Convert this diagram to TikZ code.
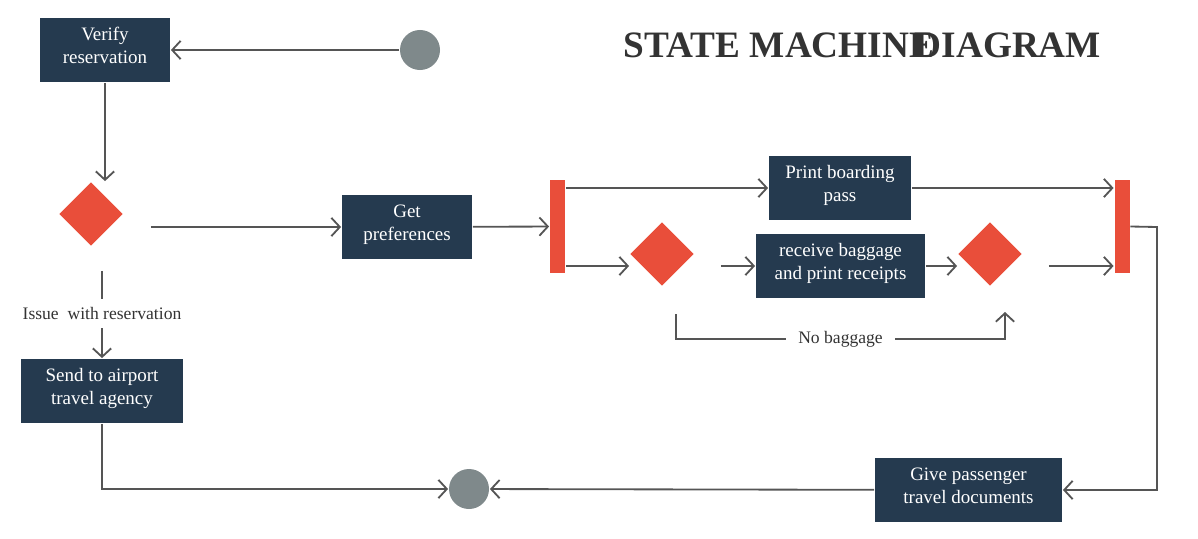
\documentclass[tikz,border=0pt]{standalone}
\usepackage{fontspec}
\setmainfont{Liberation Serif}
\usetikzlibrary{arrows.meta,shapes.geometric}
\definecolor{navy}{HTML}{253A4F}
\definecolor{tomato}{HTML}{E94E3A}
\definecolor{slate}{HTML}{7F898B}
\definecolor{wire}{HTML}{555555}
\definecolor{ink}{HTML}{333333}
\tikzstyle{act} = [rectangle,fill=navy,text=white,align=center,inner sep=0,
                   minimum height=1.6cm,text depth=6pt,
                   font=\fontsize{13.5}{16.4}\selectfont]
\tikzstyle{choice} = [diamond,fill=tomato,inner sep=0,minimum size=1.6cm]
\tikzstyle{fork} = [rectangle,fill=tomato,inner sep=0,
                    minimum width=0.375cm,minimum height=2.325cm]
\tikzstyle{terminal} = [circle,fill=slate,inner sep=0,minimum size=1cm]
\tikzstyle{lbl} = [fill=white,text=ink,inner xsep=9pt,inner ysep=6pt,
                   font=\fontsize{12.5}{15}\selectfont]
\tikzstyle{ttl} = [text=ink,inner sep=0,font=\fontsize{26.5}{30}\selectfont\bfseries]
\begin{document}
\begin{tikzpicture}[
      x=0.025cm,
      y=-0.025cm,
      ->,
      >={Straight Barb[length=6pt,width=13pt]},
      line width=1.3pt,
      color=wire]

     \useasboundingbox (0,0) rectangle (1198,539);

     \node[ttl,anchor=base west] (ttlA) at (623,57) {STATE MACHINE};
     \node[ttl,anchor=base east] (ttlB) at (1102,57) {DIAGRAM};

     \node[act,minimum width=3.25cm]  (verify) at (105,50)    {Verify\\reservation};
     \node[terminal]                  (start)  at (420,50)    {};
     \node[choice]                    (dec1)   at (91,214)    {};
     \node[act,minimum width=3.25cm]  (prefs)  at (407,227)   {Get\\preferences};
     \node[fork]                      (bar1)   at (557.5,226.5) {};
     \node[act,minimum width=3.55cm]  (pb)     at (840,188)   {Print boarding\\pass};
     \node[choice]                    (dec2)   at (662,254)   {};
     \node[act,minimum width=4.225cm] (rb)     at (840.5,266) {receive baggage\\and print receipts};
     \node[choice]                    (dec3)   at (990,254)   {};
     \node[fork]                      (bar2)   at (1122,226.5) {};
     \node[act,minimum width=4.675cm] (give)   at (968.5,490) {Give passenger\\travel documents};
     \node[terminal]                  (stop)   at (469,489)   {};
     \node[act,minimum width=4.05cm]  (send)   at (102,391)   {Send to airport\\travel agency};

     \coordinate (nbA) at (676,314);
     \coordinate (nbB) at (676,339);
     \coordinate (nbC) at (1005,339);
     \coordinate (nbD) at (1005,312);
     \coordinate (turn) at (1157,227);

     \draw (start) -- (verify);
     \draw (verify) -- (verify.south |- dec1.north);
     \draw[shorten <=0.675cm] (dec1.east |- prefs.west) -- (prefs.west);
     \draw[shorten <=0.6cm] (send.north |- dec1.south)
       -- node[lbl,pos=0.6] {Issue\ \ with reservation} (send.north);
     \draw (prefs) -- (bar1);
     \draw (bar1.east |- pb.west) -- (pb.west);
     \draw (pb.east) -- (bar2.west |- pb.east);
     \draw (bar1.east |- rb.west) -- (dec2.west |- rb.west);
     \draw[shorten <=0.65cm] (dec2.east |- rb.west) -- (rb.west);
     \draw (rb.east) -- (dec3.west |- rb.east);
     \draw[shorten <=0.65cm] (dec3.east |- rb.east) -- (bar2.west |- rb.east);
     \draw (nbA) -- (nbB) -- node[lbl] {No baggage} (nbC) -- (nbD);
     \draw (bar2.east) -- (turn) |- (give.east);
     \draw (give) -- (stop);
     \draw (send.south) |- (stop.west);

  \end{tikzpicture}
\end{document}
